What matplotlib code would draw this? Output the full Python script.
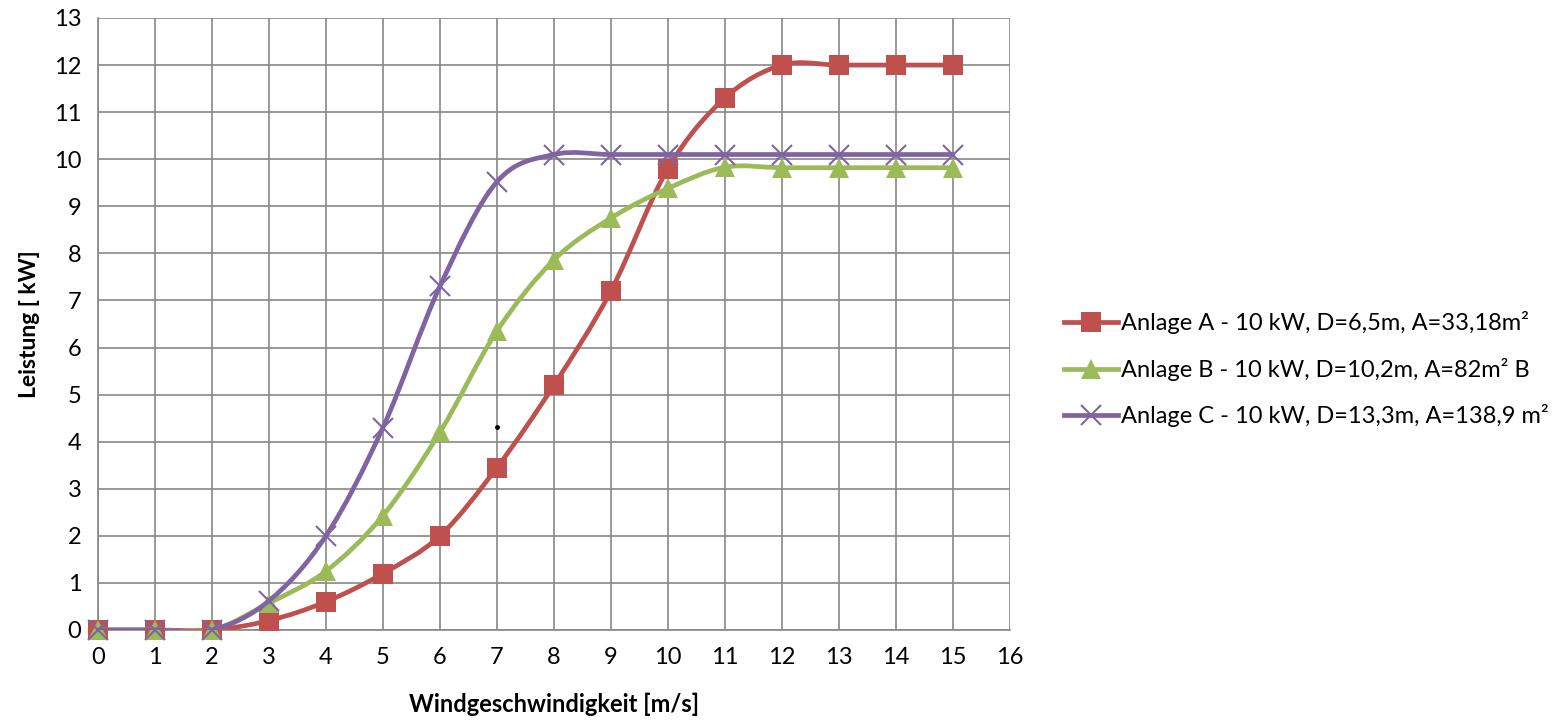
#!/usr/bin/env python3
"""Leistungskurven dreier Kleinwindanlagen."""

import matplotlib.pyplot as plt
from matplotlib.lines import Line2D
from matplotlib.patches import PathPatch
from matplotlib.path import Path

plt.rcParams["font.family"] = ["Lato", "DejaVu Sans"]

wind = [0, 1, 2, 3, 4, 5, 6, 7, 8, 9, 10, 11, 12, 13, 14, 15]
power_a = [0, 0, 0, 0.2, 0.6, 1.2, 2.0, 3.45, 5.2, 7.2, 9.8, 11.3, 12, 12, 12, 12]
power_b = [0, 0, 0, 0.57, 1.25, 2.43, 4.2, 6.35, 7.86, 8.75, 9.38, 9.83, 9.82, 9.82, 9.82, 9.82]
power_c = [0, 0, 0, 0.62, 2.0, 4.3, 7.3, 9.52, 10.1, 10.1, 10.1, 10.1, 10.1, 10.1, 10.1, 10.1]
labels = [
    "Anlage A - 10 kW, D=6,5m, A=33,18m²",
    "Anlage B - 10 kW, D=10,2m, A=82m² B",
    "Anlage C - 10 kW, D=13,3m, A=138,9 m²",
]
stray_x = [7.0]
stray_y = [4.31]


def smooth_path(xs, ys):
    """Excel-style smoothed line as cubic Bezier segments."""
    pts = list(zip(xs, ys))
    n = len(pts)
    verts = [pts[0]]
    codes = [Path.MOVETO]
    for i in range(n - 1):
        p0 = pts[max(i - 1, 0)]
        p1 = pts[i]
        p2 = pts[i + 1]
        p3 = pts[min(i + 2, n - 1)]
        c1 = (p1[0] + (p2[0] - p0[0]) / 6, p1[1] + (p2[1] - p0[1]) / 6)
        c2 = (p2[0] - (p3[0] - p1[0]) / 6, p2[1] - (p3[1] - p1[1]) / 6)
        verts += [c1, c2, p2]
        codes += [Path.CURVE4] * 3
    return Path(verts, codes)


series = [
    (power_a, "#C0504D", "s", 14),
    (power_b, "#9BBB59", "^", 14),
    (power_c, "#8064A2", "x", 15),
]

fig = plt.figure(figsize=(15.68, 7.2), dpi=100)
ax = fig.add_axes([0.0625, 0.125, 0.5815, 0.85])

handles = []
for z, (ys, color, marker, ms) in enumerate(series):
    ax.add_patch(PathPatch(smooth_path(wind, ys), fill=False, edgecolor=color,
                           linewidth=3.4, zorder=3 + z, capstyle="round"))
    mew = 1.5 if marker == "x" else 0
    ax.plot(wind, ys, linestyle="none", marker=marker, markersize=ms,
            color=color, markeredgewidth=mew, zorder=3 + z, clip_on=False)
    handles.append(Line2D([], [], color=color, linewidth=3.4, marker=marker,
                          markersize=ms, markeredgewidth=mew))

ax.plot(stray_x, stray_y, "o", color="black", markersize=2.5, zorder=7)

ax.set_xlim(0, 16)
ax.set_ylim(0, 13)
ax.set_xticks(range(0, 17))
ax.set_yticks(range(0, 14))
ax.grid(True, color="#888888", linewidth=1.2)
ax.set_axisbelow(True)
for side in ["top", "right"]:
    ax.spines[side].set_visible(False)
for side in ["left", "bottom"]:
    ax.spines[side].set_color("#888888")
    ax.spines[side].set_linewidth(1.2)
ax.tick_params(length=0, labelsize=17, pad=12)

ax.set_xlabel("Windgeschwindigkeit [m/s]", fontsize=17, fontweight="bold", labelpad=18)
ax.set_ylabel("Leistung [ kW]", fontsize=16.5, fontweight="bold", labelpad=10)

fig.legend(handles, labels, loc="center left", bbox_to_anchor=(0.665, 0.487),
           frameon=False, fontsize=17, handlelength=2.3, handletextpad=0.1,
           labelspacing=1.0)

fig.savefig("out.png", dpi=100)
